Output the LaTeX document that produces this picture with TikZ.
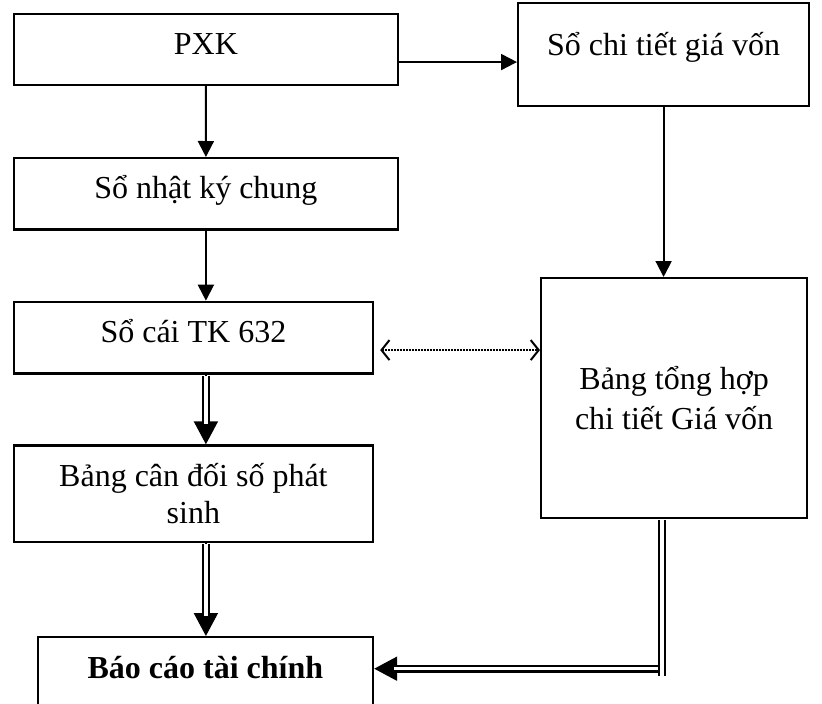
\documentclass[tikz,border=0pt]{standalone}
\usepackage{fontspec}
\setmainfont{Liberation Serif}
\usetikzlibrary{arrows.meta,calc}

\tikzset{
  box/.style={draw, line width=2.2pt, inner sep=0pt, align=center,
    font=\fontsize{32}{36.8}\selectfont},
  arr/.style={line width=2pt, -{Triangle[length=16pt,width=16pt]}},
  dbl/.style={double, double distance=3.5pt, line width=2.2pt},
  dtip/.style={line width=2pt, -{Triangle[length=23pt,width=24pt]}},
  dotarr/.style={line width=2pt, dash pattern=on 1.6pt off 1.4pt,
    {Straight Barb[length=8pt,width=20pt]}-{Straight Barb[length=8pt,width=20pt]}}
}

\begin{document}
\begin{tikzpicture}[x=1pt,y=-1pt]
\useasboundingbox (0,0) rectangle (822,704);

% boxes
\node[box, anchor=north west, minimum width=384.3pt, text height=40.6pt, text depth=30.7pt]
  (pxk) at (12.7,12.7) {PXK};
\node[box, anchor=north west, minimum width=291pt, text height=52pt, text depth=51pt]
  (sct) at (517,2) {Sổ chi tiết giá vốn};
\node[box, anchor=north west, minimum width=384.4pt, text height=40.3pt, text depth=31pt]
  (nk) at (12.6,157) {Sổ nhật ký chung};
\node[box, anchor=north west, minimum width=359.4pt, text height=40.3pt, text depth=31.3pt]
  (sc) at (12.6,300.7) {Sổ cái TK 632};
\node[box, anchor=north west, minimum width=359.4pt, minimum height=96.7pt]
  (bcd) at (12.6,444.3) {Bảng cân đối số phát\\sinh};
\node[box, anchor=north west, minimum width=335.4pt, text height=41.3pt, text depth=33pt,
  font=\fontsize{32}{36.8}\selectfont\bfseries]
  (bc) at (36.6,636) {Báo cáo tài chính};
\node[box, anchor=north west, minimum width=266pt, minimum height=240pt]
  (th) at (540,277) {Bảng tổng hợp\\[4pt]chi tiết Giá vốn};

% single-line arrows
\draw[arr] (pxk.south) -- (nk.north);
\draw[arr] (nk.south) -- (nk.south |- sc.north);
\coordinate (p1) at ($(pxk.east)+(0,12.6)$);
\draw[arr] (p1) -- (p1 -| sct.west);
\draw[arr] (sct.south) -- (th.north -| sct.south);

% dotted two-way link
\coordinate (d1) at ($(sc.east)+(6,12.5)$);
\draw[dotarr] (d1) -- (d1 -| th.west);

% double-line arrows
\coordinate (a1) at (sc.south -| nk.south);
\coordinate (a2) at (bcd.north -| nk.south);
\draw[dtip] (a1) -- (a2);
\draw[dbl, shorten <=1pt, shorten >=20pt] (a1) -- (a2);
\coordinate (b1) at (bcd.south -| nk.south);
\coordinate (b2) at (bc.north -| nk.south);
\draw[dtip] (b1) -- (b2);
\draw[dbl, shorten <=1pt, shorten >=20pt] (b1) -- (b2);

% double line from the summary table down and across
\coordinate (v0) at ($(th.south)+(-12,1.2)$);
\coordinate (v1) at ($(v0)+(0,156)$);
\coordinate (h0) at ($(v0)+(-2,148.3)$);
\draw[dtip] (h0) -- (h0 -| bc.east);
\draw[dbl, shorten >=20pt] (h0) -- (h0 -| bc.east);
\draw[dbl] (v0) -- (v1);
\end{tikzpicture}
\end{document}
